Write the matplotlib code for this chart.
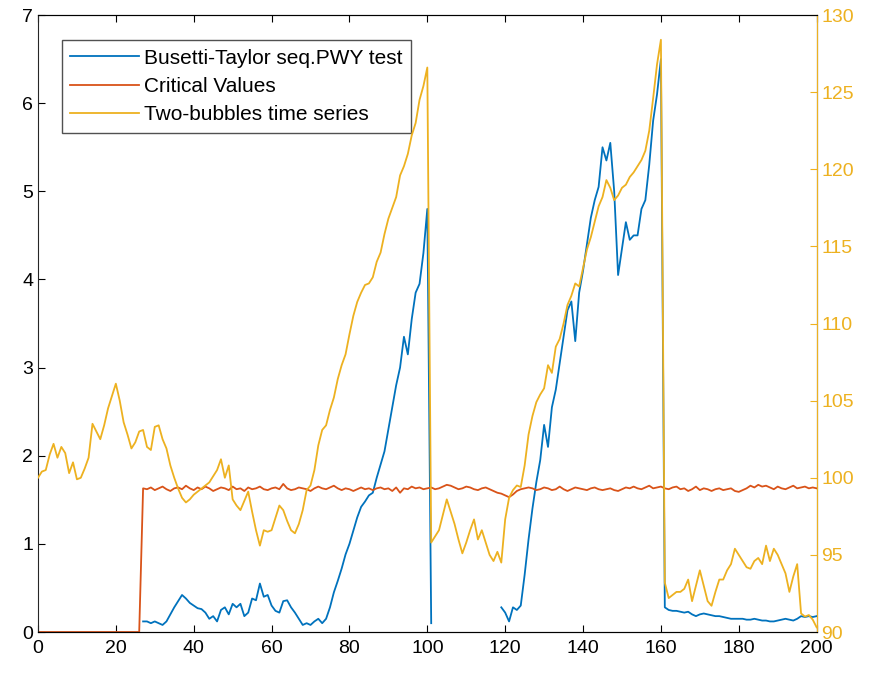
import numpy as np
import matplotlib.pyplot as plt

plt.rcParams['font.family'] = ['Liberation Sans', 'DejaVu Sans']

# time index 0..200
t = np.arange(0, 201)

# Busetti-Taylor seq.PWY test statistic (nan = not computed)
bt_start = [0.12, 0.12, 0.10, 0.12, 0.10, 0.08, 0.12, 0.20, 0.28, 0.35,   # 27-36
            0.42, 0.38, 0.33, 0.30, 0.27, 0.26, 0.22, 0.15, 0.18, 0.12,   # 37-46
            0.25, 0.28, 0.20, 0.32, 0.28, 0.32, 0.18, 0.22, 0.38, 0.36,   # 47-56
            0.55, 0.40, 0.42, 0.30, 0.24, 0.22, 0.35, 0.36, 0.28, 0.22,   # 57-66
            0.15, 0.08, 0.10, 0.08, 0.12, 0.15, 0.10, 0.15, 0.28, 0.45,   # 67-76
            0.58, 0.72, 0.88, 1.00, 1.15, 1.30, 1.42, 1.48, 1.55, 1.58,   # 77-86
            1.75, 1.90, 2.05, 2.30, 2.55, 2.80, 3.00, 3.35, 3.15, 3.55,   # 87-96
            3.85, 3.95, 4.30, 4.80, 0.10]                                 # 97-101
bt_mid = [0.28, 0.22, 0.12, 0.28, 0.25, 0.30, 0.65, 1.05, 1.40, 1.70,     # 119-128
          1.95, 2.35, 2.10, 2.55, 2.75, 3.05, 3.35, 3.65, 3.75, 3.30,     # 129-138
          3.85, 4.10, 4.40, 4.70, 4.90, 5.05, 5.50, 5.35, 5.55, 5.00,     # 139-148
          4.05, 4.35, 4.65, 4.45, 4.50, 4.50, 4.80, 4.90, 5.30, 5.80,     # 149-158
          6.10, 6.50, 0.28, 0.25, 0.24, 0.24, 0.23, 0.22, 0.23, 0.20,     # 159-168
          0.18, 0.20, 0.21, 0.20, 0.19, 0.18, 0.18, 0.17, 0.16, 0.15,     # 169-178
          0.15, 0.15, 0.15, 0.14, 0.14, 0.15, 0.14, 0.13, 0.13, 0.12,     # 179-188
          0.12, 0.13, 0.14, 0.15, 0.14, 0.13, 0.15, 0.18, 0.17, 0.18,     # 189-198
          0.17, 0.18]                                                     # 199-200
bt_test = [np.nan] * 27 + bt_start + [np.nan] * 17 + bt_mid

# critical values
crit_vals = [0.0] * 27 + [
    1.63, 1.62, 1.64, 1.61, 1.63, 1.65, 1.62, 1.60, 1.63, 1.64,   # 27-36
    1.62, 1.66, 1.63, 1.61, 1.64, 1.62, 1.65, 1.63, 1.60, 1.62,   # 37-46
    1.64, 1.63, 1.61, 1.65, 1.62, 1.63, 1.60, 1.64, 1.62, 1.63,   # 47-56
    1.65, 1.62, 1.61, 1.63, 1.64, 1.62, 1.68, 1.63, 1.61, 1.62,   # 57-66
    1.64, 1.63, 1.62, 1.60, 1.63, 1.65, 1.63, 1.62, 1.64, 1.66,   # 67-76
    1.63, 1.61, 1.63, 1.62, 1.60, 1.62, 1.64, 1.62, 1.63, 1.61,   # 77-86
    1.63, 1.64, 1.62, 1.63, 1.60, 1.64, 1.58, 1.63, 1.62, 1.65,   # 87-96
    1.63, 1.64, 1.62, 1.63, 1.64, 1.62, 1.63, 1.65, 1.67, 1.66,   # 97-106
    1.64, 1.62, 1.63, 1.65, 1.64, 1.62, 1.61, 1.63, 1.64, 1.62,   # 107-116
    1.60, 1.58, 1.57, 1.55, 1.53, 1.56, 1.60, 1.62, 1.63, 1.64,   # 117-126
    1.63, 1.61, 1.62, 1.64, 1.63, 1.61, 1.62, 1.65, 1.62, 1.60,   # 127-136
    1.62, 1.64, 1.63, 1.62, 1.61, 1.63, 1.64, 1.62, 1.61, 1.62,   # 137-146
    1.63, 1.61, 1.60, 1.62, 1.64, 1.63, 1.65, 1.63, 1.62, 1.64,   # 147-156
    1.66, 1.63, 1.64, 1.65, 1.63, 1.62, 1.64, 1.65, 1.62, 1.63,   # 157-166
    1.60, 1.62, 1.65, 1.61, 1.63, 1.62, 1.60, 1.62, 1.63, 1.61,   # 167-176
    1.62, 1.63, 1.60, 1.59, 1.61, 1.63, 1.66, 1.64, 1.67, 1.65,   # 177-186
    1.66, 1.64, 1.62, 1.65, 1.63, 1.62, 1.64, 1.66, 1.63, 1.64,   # 187-196
    1.65, 1.63, 1.64, 1.63]                                       # 197-200

# two-bubbles time series (right axis)
series = [
    100.0, 100.4, 100.5, 101.5, 102.2, 101.3, 102.0, 101.6, 100.3, 101.0,   # 0-9
    99.9, 100.0, 100.6, 101.3, 103.5, 103.0, 102.5, 103.4, 104.5, 105.3,    # 10-19
    106.1, 105.0, 103.6, 102.8, 101.9, 102.3, 103.0, 103.1, 102.0, 101.8,   # 20-29
    103.3, 103.4, 102.5, 101.9, 100.8, 100.0, 99.3, 98.7, 98.4, 98.6,       # 30-39
    98.9, 99.1, 99.3, 99.5, 99.7, 100.1, 100.5, 101.2, 100.0, 100.8,        # 40-49
    98.6, 98.2, 97.9, 98.5, 99.1, 97.8, 96.6, 95.6, 96.6, 96.5,             # 50-59
    96.6, 97.4, 98.2, 97.9, 97.2, 96.6, 96.4, 97.0, 97.9, 99.2,             # 60-69
    99.5, 100.5, 102.1, 103.1, 103.4, 104.4, 105.2, 106.4, 107.3, 108.0,    # 70-79
    109.3, 110.5, 111.4, 112.0, 112.5, 112.6, 113.0, 114.0, 114.6, 115.8,   # 80-89
    116.8, 117.5, 118.2, 119.6, 120.2, 121.0, 122.2, 123.0, 124.5, 125.4,   # 90-99
    126.6, 95.8, 96.2, 96.6, 97.6, 98.6, 97.8, 97.0, 96.0, 95.1,            # 100-109
    95.8, 96.6, 97.3, 96.0, 96.6, 95.8, 95.0, 94.6, 95.2, 94.5,             # 110-119
    97.3, 98.7, 99.2, 99.5, 99.4, 100.8, 102.8, 104.0, 104.9, 105.4,        # 120-129
    105.8, 107.3, 106.8, 108.5, 109.0, 110.0, 111.2, 111.8, 112.6, 112.4,   # 130-139
    113.6, 114.8, 115.6, 116.6, 117.6, 118.2, 119.3, 118.8, 118.0, 118.3,   # 140-149
    118.8, 119.0, 119.5, 119.8, 120.2, 120.6, 121.2, 122.5, 124.6, 126.8,   # 150-159
    128.4, 93.2, 92.2, 92.4, 92.6, 92.6, 92.8, 93.4, 92.0, 93.0,            # 160-169
    94.0, 93.0, 92.0, 91.7, 92.6, 93.4, 93.4, 94.0, 94.4, 95.4,             # 170-179
    95.0, 94.6, 94.2, 94.1, 94.6, 94.8, 94.4, 95.6, 94.6, 95.4,             # 180-189
    95.0, 94.4, 93.8, 92.6, 93.6, 94.4, 91.2, 91.0, 91.1, 90.8,             # 190-199
    90.3]                                                                   # 200

c_blue = '#0072BD'
c_orange = '#D95319'
c_yellow = '#EDB120'

fig = plt.figure(figsize=(8.71, 6.75), dpi=100)
ax = fig.add_axes([0.0436, 0.0637, 0.894, 0.914])
ax2 = ax.twinx()

l1, = ax.plot(t, bt_test, color=c_blue, lw=1.3, label='Busetti-Taylor seq.PWY test')
l2, = ax.plot(t, crit_vals, color=c_orange, lw=1.3, label='Critical Values')
l3, = ax2.plot(t, series, color=c_yellow, lw=1.3, label='Two-bubbles time series')

ax.set_xlim(0, 200)
ax.set_ylim(0, 7)
ax2.set_ylim(90, 130)
ax.set_xticks(np.arange(0, 201, 20))
ax.set_yticks(np.arange(0, 8, 1))
ax2.set_yticks(np.arange(90, 131, 5))

ax.tick_params(axis='x', direction='in', top=True, labelsize=14, length=5, pad=6)
ax.tick_params(axis='y', direction='in', right=False, labelsize=14, length=5)
ax2.tick_params(axis='y', direction='in', colors=c_yellow, labelsize=14, length=5)
ax2.spines['right'].set_color(c_yellow)
for s in ['left', 'bottom', 'top']:
    ax.spines[s].set_color('#262626')
ax2.spines['left'].set_visible(False)

leg = ax.legend(handles=[l1, l2, l3], loc='upper left', bbox_to_anchor=(0.031, 0.959),
                borderaxespad=0, fontsize=15, frameon=True, fancybox=False,
                edgecolor='#262626', handlelength=3.3, handletextpad=0.25,
                borderpad=0.4, labelspacing=0.45)
leg.get_frame().set_linewidth(1.0)

fig.savefig('out.png', dpi=100)
